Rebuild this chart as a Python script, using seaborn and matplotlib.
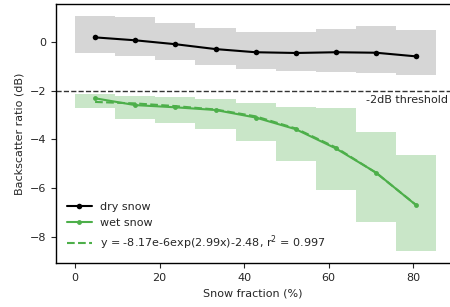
import numpy as np
import pandas as pd
import matplotlib
matplotlib.use("Agg")
import matplotlib.pyplot as plt
import seaborn as sns

# ---- data ----
bin_edges = [0, 9.5, 19, 28.5, 38, 47.5, 57, 66.5, 76, 85.5]
snow_fraction = [4.75, 14.25, 23.75, 33.25, 42.75, 52.25, 61.75, 71.25, 80.75]

dry_mean = [0.19, 0.07, -0.09, -0.29, -0.42, -0.45, -0.42, -0.44, -0.59]
dry_upper = [1.08, 1.01, 0.79, 0.56, 0.42, 0.42, 0.52, 0.67, 0.49]
dry_lower = [-0.44, -0.56, -0.75, -0.94, -1.11, -1.19, -1.22, -1.26, -1.34]

wet_mean = [-2.31, -2.59, -2.68, -2.79, -3.10, -3.58, -4.37, -5.36, -6.70]
wet_upper = [-2.14, -2.22, -2.27, -2.33, -2.49, -2.68, -2.72, -3.69, -4.64]
wet_lower = [-2.70, -3.15, -3.31, -3.59, -4.07, -4.89, -6.08, -7.39, -8.57]

fit_values = [-2.46, -2.52, -2.63, -2.77, -3.05, -3.55, -4.33, -5.37, -6.69]

threshold = -2
labels = ["dry snow", "wet snow", "y = -8.17e-6exp(2.99x)-2.48, r$^2$ = 0.997", "-2dB threshold"]

# ---- style ----
sns.set_style("ticks")
plt.rcParams["font.family"] = ["DejaVu Sans"]
plt.rcParams["font.size"] = 8

green = "#4daf4a"
gray_fill = "#d6d6d6"

fig = plt.figure(figsize=(4.5, 3.07), dpi=100)
ax = fig.add_axes([56 / 450, 1 - 263 / 307, 1 - 56 / 450, (263 - 4) / 307])

def step(vals):
    return list(vals) + [vals[-1]]

ax.fill_between(bin_edges, step(dry_lower), step(dry_upper), step="post",
                color=gray_fill, linewidth=0, zorder=1)
ax.fill_between(bin_edges, step(wet_lower), step(wet_upper), step="post",
                color=green, alpha=0.3, linewidth=0, zorder=1)

df = pd.DataFrame({"x": snow_fraction, "dry": dry_mean, "wet": wet_mean, "fit": fit_values})

sns.lineplot(data=df, x="x", y="dry", ax=ax, color="black", marker="o",
             markersize=4, markeredgewidth=0, linewidth=1.5, label=labels[0], zorder=3)
sns.lineplot(data=df, x="x", y="wet", ax=ax, color=green, marker="o",
             markersize=3.5, markeredgewidth=0, linewidth=1.5, label=labels[1], zorder=3)
sns.lineplot(data=df, x="x", y="fit", ax=ax, color=green, linestyle="--",
             linewidth=1.5, label=labels[2], zorder=2)

ax.axhline(threshold, color="#333333", linestyle="--", linewidth=1, zorder=2)
ax.text(88.3, threshold - 0.17, labels[3], ha="right", va="top", fontsize=8)

ax.set_xlim(-4.5, 88.75)
ax.set_ylim(-9.07, 1.56)
ax.set_xticks([0, 20, 40, 60, 80])
ax.set_yticks([-8, -6, -4, -2, 0])
ax.set_xlabel("Snow fraction (%)", fontsize=8)
ax.set_ylabel("Backscatter ratio (dB)", fontsize=8)
ax.tick_params(labelsize=8, length=3.5, width=0.8)
for s in ax.spines.values():
    s.set_color("black")
    s.set_linewidth(1)
ax.spines["right"].set_visible(False)

ax.legend(loc="lower left", frameon=False, fontsize=8, handlelength=2.2,
          borderaxespad=0.6)

fig.savefig("out.png", dpi=100)
